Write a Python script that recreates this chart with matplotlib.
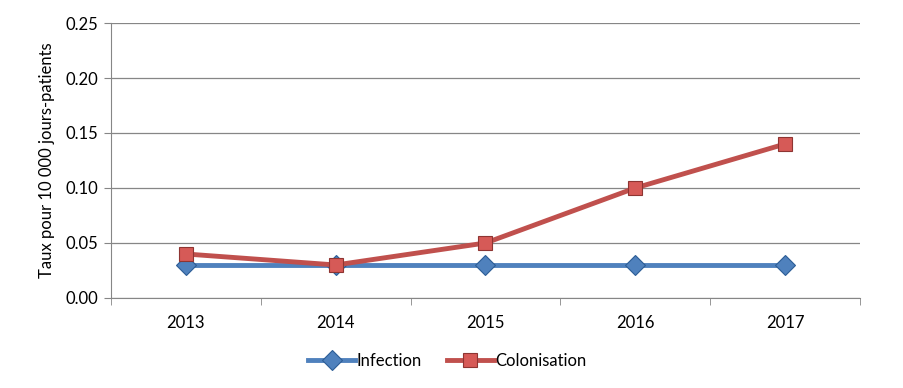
import numpy as np
import matplotlib.pyplot as plt

years = ['2013', '2014', '2015', '2016', '2017']
infection = [0.03, 0.03, 0.03, 0.03, 0.03]
colonisation = [0.04, 0.03, 0.05, 0.10, 0.14]

plt.rcParams['font.family'] = ['Lato', 'DejaVu Sans']

fig = plt.figure(figsize=(9.04, 3.88), dpi=100)
ax = fig.add_axes([0.1228, 0.232, 0.8285, 0.7087])

x = np.arange(len(years))
ax.plot(x, infection, color='#4F81BD', lw=3.5, marker='D', ms=10,
        mfc='#4F81BD', mec='#2C5D96', mew=0.8, label='Infection', zorder=3)
ax.plot(x, colonisation, color='#C0504D', lw=3.5, marker='s', ms=10,
        mfc='#D65A57', mec='#8E3532', mew=0.8, label='Colonisation', zorder=3)

ax.set_xlim(-0.5, 4.5)
ax.set_ylim(0, 0.25)
ax.set_yticks(np.arange(0, 0.26, 0.05))
ax.set_yticklabels(['%.2f' % v for v in np.arange(0, 0.26, 0.05)])
ax.set_xticks(x)
ax.set_xticklabels(years)
ax.set_xticks(np.arange(-0.5, 5, 1), minor=True)
ax.tick_params(axis='x', which='major', length=0, pad=12, labelsize=12)
ax.tick_params(axis='x', which='minor', length=5, color='#868686', direction='out')
ax.tick_params(axis='y', length=5, color='#868686', labelsize=12, pad=4)

ax.grid(axis='y', color='#868686', lw=0.9)
ax.set_axisbelow(True)
for s in ['top', 'right']:
    ax.spines[s].set_visible(False)
for s in ['left', 'bottom']:
    ax.spines[s].set_color('#868686')

ax.set_ylabel('Taux pour 10 000 jours-patients', fontsize=12, labelpad=8)

fig.legend(loc='center', bbox_to_anchor=(0.495, 0.07), ncol=2, frameon=False,
           fontsize=12, handlelength=2.8, columnspacing=1.5, handletextpad=0.1)

fig.savefig('out.png', dpi=100)
